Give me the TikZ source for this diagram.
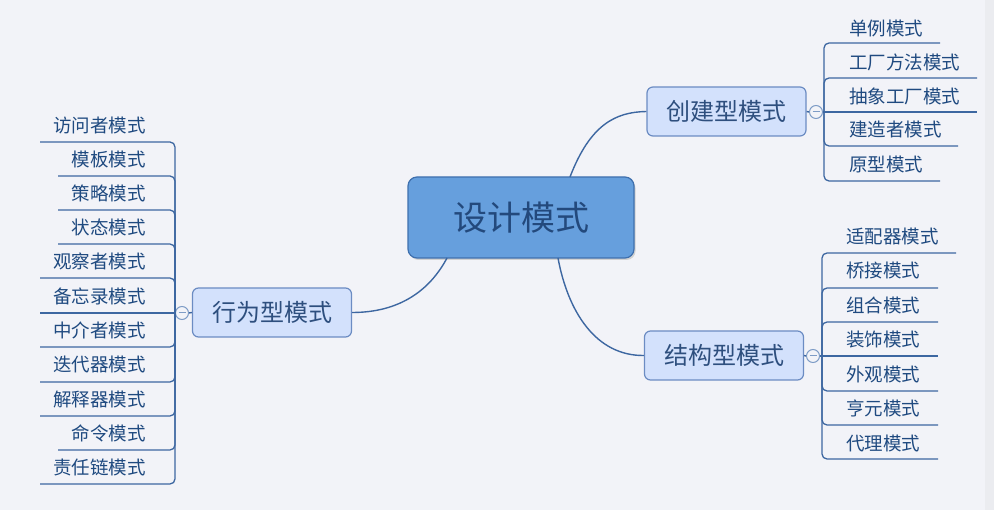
\documentclass[tikz,border=0pt]{standalone}
\usepackage{fontspec}
\setmainfont{Noto Sans CJK SC}
\definecolor{bgc}{HTML}{F2F3F8}
\definecolor{stripc}{HTML}{EBECF0}
\definecolor{linec}{HTML}{3D67A1}
\definecolor{leafc}{HTML}{1F4A80}
\definecolor{catfill}{HTML}{D3E1FC}
\definecolor{catdraw}{HTML}{6C8CC3}
\definecolor{cattext}{HTML}{2E4F7E}
\definecolor{cenfill}{HTML}{669FDD}
\definecolor{cendraw}{HTML}{3F70AE}
\definecolor{centext}{HTML}{23497C}
\definecolor{circd}{HTML}{7E9CC6}
\begin{document}
\begin{tikzpicture}[x=1pt,y=-1pt,
  leaf/.style={inner sep=0pt, font=\fontsize{18.5}{20}\selectfont, text=leafc},
  catnode/.style={draw=catdraw, fill=catfill, line width=1.2pt, rounded corners=6pt,
    minimum width=159pt, minimum height=49pt, inner sep=0pt,
    font=\fontsize{24}{26}\selectfont, text=cattext},
  cennode/.style={draw=cendraw, fill=cenfill, line width=1.2pt, rounded corners=9pt,
    minimum width=226pt, minimum height=81pt, inner sep=0pt,
    font=\fontsize{34}{36}\selectfont, text=centext},
  knob/.style={circle, draw=circd, fill=bgc, line width=1pt, minimum size=13pt, inner sep=0pt},
  leafline/.style={draw=linec, line width=1.3pt, rounded corners=5pt},
  link/.style={draw=linec, line width=1.4pt}
]
\useasboundingbox (0,0) rectangle (994,510);
\fill[bgc] (0,0) rectangle (994,510);
\fill[stripc] (985,0) rectangle (994,510);

% central
\fill[black!18] (522.5,219.5) ++(-113,-40.5) [rounded corners=9pt] rectangle ++(226,81);
\node[cennode] (center) at (521,217.5) {设计模式};

% category nodes
\node[catnode] (cre) at (726.5,111.5) {创建型模式};
\node[catnode] (str) at (724,355.5) {结构型模式};
\node[catnode] (beh) at (272,312.5) {行为型模式};

% links central -> categories
\coordinate (ct1) at (570,177);
\coordinate (ct2) at (558,258);
\coordinate (ct3) at (447,258);
\draw[link] (ct1) .. controls (590,125) and (615,112) .. (cre.west);
\draw[link] (ct2) .. controls (568,312) and (596,356) .. (str.west);
\draw[link] (ct3) .. controls (430,290) and (400,312.5) .. (beh.east);

% knobs
\node[knob] (k1) at (816,112) {};
\node[knob] (k2) at (813,356) {};
\node[knob] (k3) at (182,313) {};
\draw[link] (cre.east) -- (k1.west);
\draw[link] (str.east) -- (k2.west);
\draw[link] (beh.west) -- (k3.east);

% spines
\coordinate (s1) at (824,112);
\coordinate (s2) at (822,356);
\coordinate (s3) at (175,313);

% creational leaves
\node[leaf, anchor=west] (c1) at (849,28) {单例模式};
\node[leaf, anchor=west] (c2) at (849,62) {工厂方法模式};
\node[leaf, anchor=west] (c3) at (849,96) {抽象工厂模式};
\node[leaf, anchor=west] (c4) at (849,129.5) {建造者模式};
\node[leaf, anchor=west] (c5) at (849,164) {原型模式};
\coordinate (ce1) at (940,43);
\coordinate (ce2) at (977,78);
\coordinate (ce3) at (977,112);
\coordinate (ce4) at (958,146);
\coordinate (ce5) at (940,181);
\foreach \i in {1,2,4,5} {\draw[leafline] (s1) |- (ce\i);}
\draw[leafline] (k1.east) -- (ce3);

% structural leaves
\node[leaf, anchor=west] (t1) at (846,236) {适配器模式};
\node[leaf, anchor=west] (t2) at (846,271) {桥接模式};
\node[leaf, anchor=west] (t3) at (846,305.5) {组合模式};
\node[leaf, anchor=west] (t4) at (846,340) {装饰模式};
\node[leaf, anchor=west] (t5) at (846,374) {外观模式};
\node[leaf, anchor=west] (t6) at (846,408) {亨元模式};
\node[leaf, anchor=west] (t7) at (846,443) {代理模式};
\coordinate (te1) at (956,253);
\coordinate (te2) at (938,288);
\coordinate (te3) at (938,322);
\coordinate (te4) at (938,356);
\coordinate (te5) at (938,391);
\coordinate (te6) at (938,425);
\coordinate (te7) at (938,459);
\foreach \i in {1,2,3,5,6,7} {\draw[leafline] (s2) |- (te\i);}
\draw[leafline] (k2.east) -- (te4);

% behavioral leaves
\node[leaf, anchor=east] (b1) at (146,125) {访问者模式};
\node[leaf, anchor=east] (b2) at (146,159) {模板模式};
\node[leaf, anchor=east] (b3) at (146,193) {策略模式};
\node[leaf, anchor=east] (b4) at (146,227) {状态模式};
\node[leaf, anchor=east] (b5) at (146,261.5) {观察者模式};
\node[leaf, anchor=east] (b6) at (146,296) {备忘录模式};
\node[leaf, anchor=east] (b7) at (146,330) {中介者模式};
\node[leaf, anchor=east] (b8) at (146,364.5) {迭代器模式};
\node[leaf, anchor=east] (b9) at (146,399) {解释器模式};
\node[leaf, anchor=east] (b10) at (146,433) {命令模式};
\node[leaf, anchor=east] (b11) at (146,467) {责任链模式};
\coordinate (be1) at (40,142);
\coordinate (be2) at (58,176);
\coordinate (be3) at (58,210);
\coordinate (be4) at (58,244);
\coordinate (be5) at (40,278);
\coordinate (be6) at (40,313);
\coordinate (be7) at (40,347);
\coordinate (be8) at (40,382);
\coordinate (be9) at (40,416);
\coordinate (be10) at (58,450);
\coordinate (be11) at (40,484);
\foreach \i in {1,2,3,4,5,7,8,9,10,11} {\draw[leafline] (s3) |- (be\i);}
\draw[leafline] (k3.west) -- (be6);

% knob minus signs
\foreach \k in {k1,k2,k3} {\draw[circd, line width=1pt] ([xshift=-3.5pt]\k.center) -- ([xshift=3.5pt]\k.center);}
\end{tikzpicture}
\end{document}
